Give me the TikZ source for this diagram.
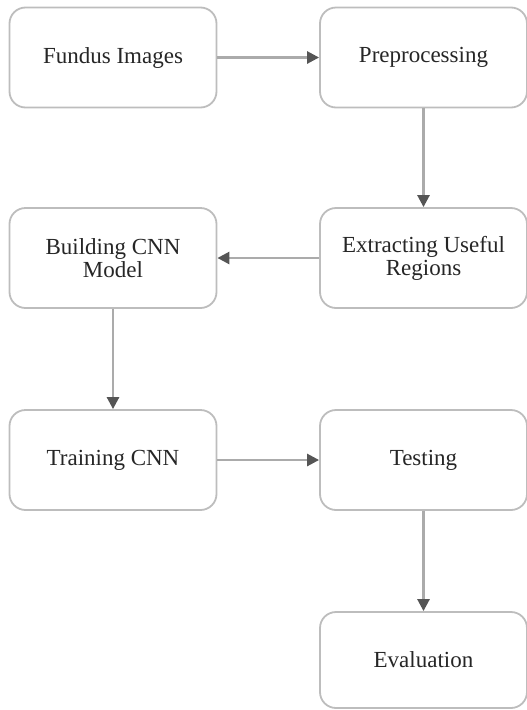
\documentclass[tikz,border=0pt]{standalone}
\usepackage{fontspec}
\setmainfont{Liberation Serif}
\usetikzlibrary{arrows.meta}
\definecolor{boxline}{HTML}{BDBDBD}
\definecolor{arrline}{HTML}{ABABAB}
\definecolor{arrhead}{HTML}{555555}
\definecolor{txt}{HTML}{262626}
\begin{document}
\begin{tikzpicture}[x=1pt,y=-1pt,
  stagebox/.style={draw=boxline, line width=1.8pt, rounded corners=16pt, fill=white,
    minimum width=207pt, minimum height=100pt, align=center, text=txt,
    font=\fontsize{23}{23}\selectfont, inner sep=0pt},
  flow/.style={draw=arrline, line width=2.6pt, -{Triangle[length=12pt,width=12pt,color=arrhead]}}]
\useasboundingbox (0,0) rectangle (527,710);
\node[stagebox] (fundus) at (113,57.5) {Fundus Images};
\node[stagebox] (pre) at (423.5,57.5) {Preprocessing};
\node[stagebox] (extract) at (423.5,258) {Extracting Useful\\Regions};
\node[stagebox] (build) at (113,258) {Building CNN\\Model};
\node[stagebox] (train) at (113,460) {Training CNN};
\node[stagebox] (test) at (423.5,460) {Testing};
\node[stagebox, minimum height=96pt] (eval) at (423.5,660) {Evaluation};
\draw[flow] (fundus) -- (pre);
\draw[flow] (pre) -- (extract);
\draw[flow] (extract) -- (build);
\draw[flow] (build) -- (train);
\draw[flow] (train) -- (test);
\draw[flow] (test) -- (eval);
\end{tikzpicture}
\end{document}
